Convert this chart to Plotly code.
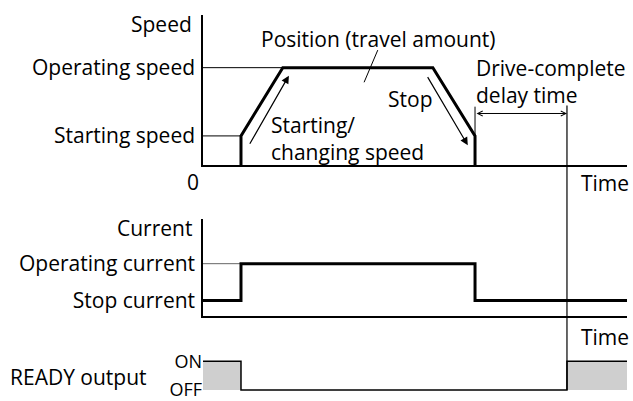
import plotly.graph_objects as go

W, H = 633, 401
FONT = "Open Sans"
FS = 21

# time events (arbitrary time units)
t_move = 1.0      # motion starts
t_acc = 2.1       # acceleration done
t_dec = 6.05      # deceleration starts
t_stop = 7.16     # motor stopped
t_ready = 9.58    # drive-complete delay elapsed
t_end = 11.16

# speed levels
starting_speed = 0.3
operating_speed = 1.0
speed_t = [t_move, t_move, t_acc, t_dec, t_stop, t_stop]
speed_v = [0, starting_speed, operating_speed, operating_speed, starting_speed, 0]

# current levels
stop_current = 0.3
operating_current = 1.0
current_t = [0, t_move, t_move, t_stop, t_stop, t_end]
current_v = [stop_current, stop_current, operating_current, operating_current,
             stop_current, stop_current]

# READY output (1 = ON, 0 = OFF)
ready_t = [0, t_move, t_move, t_ready, t_ready, t_end]
ready_v = [1, 1, 0, 0, 1, 1]


def ydom(top_px, bot_px):
    return [1 - bot_px / H, 1 - top_px / H]


def px(x):
    return x / W


def py(y):
    return 1 - y / H


fig = go.Figure()
blk = "black"

# speed panel
fig.add_trace(go.Scatter(x=[0, t_acc], y=[operating_speed] * 2, mode="lines",
                         line=dict(color=blk, width=1), xaxis="x", yaxis="y"))
fig.add_trace(go.Scatter(x=[0, t_move], y=[starting_speed] * 2, mode="lines",
                         line=dict(color=blk, width=1), xaxis="x", yaxis="y"))
fig.add_trace(go.Scatter(x=[t_stop, t_stop], y=[starting_speed, 0.6], mode="lines",
                         line=dict(color=blk, width=1), xaxis="x", yaxis="y"))
fig.add_trace(go.Scatter(x=[4.6, 4.24], y=[1.18, 0.85], mode="lines",
                         line=dict(color=blk, width=1), xaxis="x", yaxis="y"))
fig.add_trace(go.Scatter(x=speed_t, y=speed_v, mode="lines",
                         line=dict(color=blk, width=3), xaxis="x", yaxis="y"))

# current panel
fig.add_trace(go.Scatter(x=[0, t_move], y=[operating_current] * 2, mode="lines",
                         line=dict(color="#666", width=1), xaxis="x2", yaxis="y2"))
fig.add_trace(go.Scatter(x=current_t, y=current_v, mode="lines",
                         line=dict(color=blk, width=3), xaxis="x2", yaxis="y2"))

# READY panel
fig.add_trace(go.Scatter(x=ready_t, y=ready_v, mode="lines", fill="tozeroy",
                         fillcolor="#cfcfcf", line=dict(color=blk, width=1.5),
                         xaxis="x3", yaxis="y3"))

xd = [203 / W, 627 / W]
xr = [0, t_end]
common_x = dict(range=xr, domain=xd, showgrid=False, zeroline=False,
                showticklabels=False, ticks="", fixedrange=True)
common_y = dict(showgrid=False, zeroline=False, ticks="", fixedrange=True,
                tickfont=dict(family=FONT, size=FS, color=blk),
                ticklabelstandoff=2, ticklabeloverflow="allow")

# speed: baseline at 166px, 98 px per unit, top of axis at 15px
fig.update_layout(
    xaxis=dict(common_x, anchor="y", showline=True, linecolor=blk, linewidth=1.5),
    yaxis=dict(common_y, domain=ydom(15, 166), range=[0, 151 / 98],
               showline=True, linecolor=blk, linewidth=1.5, anchor="x",
               tickvals=[starting_speed, operating_speed],
               ticktext=["Starting speed", "Operating speed"]),
    xaxis2=dict(common_x, anchor="y2", showline=True, linecolor=blk, linewidth=1.5),
    yaxis2=dict(common_y, domain=ydom(220, 318), range=[0, 98 / 53],
                showline=True, linecolor=blk, linewidth=1.5, anchor="x2",
                tickvals=[stop_current, operating_current],
                ticktext=["Stop current", "Operating current"]),
    xaxis3=dict(common_x, anchor="y3", showline=False),
    yaxis3=dict(common_y, domain=ydom(350, 401), range=[-9 / 29, 42 / 29],
                showline=False, anchor="x3", tickvals=[0, 1],
                ticktext=["OFF", "ON"], tickfont=dict(family=FONT, size=18, color=blk)),
)
fig.update_layout(yaxis3_ticklabelstandoff=0)

# vertical line at drive-complete
fig.add_shape(type="line", xref="x", yref="paper", x0=t_ready, x1=t_ready,
              y0=py(392), y1=py(106), line=dict(color=blk, width=1.2))

ann = []


def txt(text, x, y, xanchor="center", size=FS):
    ann.append(dict(text=text, x=x, y=y, xref="paper", yref="paper",
                    xanchor=xanchor, yanchor="middle", showarrow=False,
                    font=dict(family=FONT, size=size, color=blk), align="left"))


txt("Speed", px(194), py(24), "right")
txt("0", px(193), py(183))
txt("Time", px(579), py(184), "left")
txt("Position (travel amount)", px(378), py(39))
txt("Starting/<br>changing speed", px(269), py(139), "left")
txt("Stop", px(410), py(99))
txt("Drive-complete<br>delay time", px(474), py(82), "left")
txt("Current", px(194), py(229), "right")
txt("Time", px(579), py(339), "left")
txt("READY output", px(8), py(379), "left")

# arrows in the speed panel
for head, tail in [((2.26, 0.918), (1.21, 0.204)), ((6.97, 0.204), (5.89, 0.918))]:
    ann.append(dict(x=head[0], y=head[1], ax=tail[0], ay=tail[1], xref="x", yref="y",
                    axref="x", ayref="y", text="", showarrow=True, arrowhead=2,
                    arrowsize=1.3, arrowwidth=1.2, arrowcolor=blk))
ann.append(dict(x=t_ready, y=0.53, ax=t_stop, ay=0.53, xref="x", yref="y",
                axref="x", ayref="y", text="", showarrow=True, arrowhead=5,
                startarrowhead=5, arrowside="end+start", arrowsize=1,
                arrowwidth=1, arrowcolor=blk))

fig.update_layout(
    annotations=ann,
    width=W, height=H,
    margin=dict(l=0, r=0, t=0, b=0),
    paper_bgcolor="white", plot_bgcolor="white",
    showlegend=False,
    font=dict(family=FONT, color=blk),
)

fig.write_html("out.html", config={"displayModeBar": False},
               post_script="document.body.style.margin='0';")
